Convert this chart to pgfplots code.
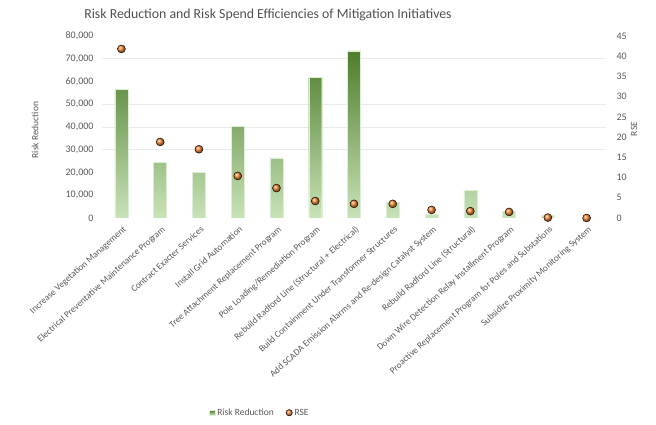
\documentclass[border=0pt]{standalone}
\usepackage{pgfplots}
\pgfplotsset{compat=1.18}
\usepackage{fontspec}
\setmainfont{Carlito}
\definecolor{txt}{HTML}{595959}
\definecolor{gdark}{HTML}{4E7D2C}
\definecolor{glight}{HTML}{C8E3B8}
\definecolor{rse}{HTML}{F2822E}
\definecolor{gridc}{HTML}{EAEAEA}

\begin{document}
\begin{tikzpicture}[x=1pt,y=1pt]
\useasboundingbox (0,0) rectangle (656,425);

% risk reduction (left axis)
\begin{axis}[
    at={(102pt,207pt)}, anchor=south west,
    scale only axis, width=504pt, height=182pt,
    xmin=-0.5, xmax=12.5,
    ymin=0, ymax=80000,
    ytick={0,10000,...,80000},
    extra y ticks={30000,40000,50000,70000},
    extra y tick style={grid=major, yticklabels={}},
    major grid style={gridc, line width=0.8pt},
    scaled y ticks=false,
    /pgf/number format/.cd, fixed, 1000 sep={,}, assume math mode=true,
    /pgfplots/.cd,
    axis line style={draw=none},
    major tick length=0pt,
    xtick={0,...,12},
    xticklabels={
        Increase Vegetation Management,
        Electrical Preventative Maintenance Program,
        Contract Exacter Services,
        Install Grid Automation,
        Tree Attachment Replacement Program,
        Pole Loading/Remediation Program,
        Rebuild Radford Line (Structural + Electrical),
        Build Containment Under Transformer Structures,
        Add SCADA Emission Alarms and Re-design Catalyst System,
        Rebuild Radford Line (Structural),
        Down Wire Detection Relay Installment Program,
        Proactive Replacement Program for Poles and Substations,
        Subsidize Proximity Monitoring System},
    xticklabel style={rotate=42, anchor=north east, font=\fontsize{9.2}{10}\selectfont, text=txt, inner sep=1pt, yshift=-5pt, xshift=-3pt},
    yticklabel style={font=\fontsize{10}{11}\selectfont, text=txt, xshift=-5pt},
    legend style={at={(0.313,-1.07)}, anchor=center, draw=none, fill=none,
        legend columns=2, font=\fontsize{9.5}{10}\selectfont, text=txt,
        /tikz/every even column/.append style={column sep=10pt}},
    legend image code/.code={\fill[#1] (0pt,-2.5pt) rectangle (6pt,2.5pt);},
]
\addplot[ybar, bar width=13pt, bar shift=0pt, draw=glight!60!white, line width=0.4pt,
    top color=gdark, bottom color=glight]
    coordinates {
    (0,56600)(1,24600)(2,20000)(3,40300)(4,26400)(5,61700)(6,73500)
    (7,6900)(8,1800)(9,12300)(10,2900)(11,1300)(12,100)
    };
\addlegendentry{Risk Reduction}
\addlegendimage{legend image code/.code={\shade[ball color=rse] (3pt,0pt) circle (3.2pt);}}
\addlegendentry{RSE}
\end{axis}

% RSE (right axis)
\begin{axis}[
    at={(102pt,207pt)}, anchor=south west,
    scale only axis, width=504pt, height=182pt,
    xmin=-0.5, xmax=12.5,
    ymin=0, ymax=45,
    ytick={0,5,...,45},
    axis x line=none,
    axis y line*=right,
    y axis line style={draw=none},
    major tick length=0pt,
    /pgf/number format/assume math mode=true,
    yticklabel style={font=\fontsize{10}{11}\selectfont, text=txt, xshift=7pt},
]
\addplot[only marks, mark=ball, mark size=4pt, ball color=rse]
    coordinates {
    (0,41.8)(1,18.8)(2,17.0)(3,10.4)(4,7.4)(5,4.2)(6,3.5)
    (7,3.5)(8,2.0)(9,1.7)(10,1.5)(11,0.1)(12,0.0)
    };
\end{axis}

\node[text=txt!90!black, font=\fontsize{13.8}{16}\selectfont] at (268,410)
    {Risk Reduction and Risk Spend Efficiencies of Mitigation Initiatives};
\node[text=txt, rotate=90, font=\fontsize{9.5}{10}\selectfont] at (35,295) {Risk Reduction};
\node[text=txt, rotate=90, font=\fontsize{9.5}{10}\selectfont] at (634,296) {RSE};
\end{tikzpicture}
\end{document}
